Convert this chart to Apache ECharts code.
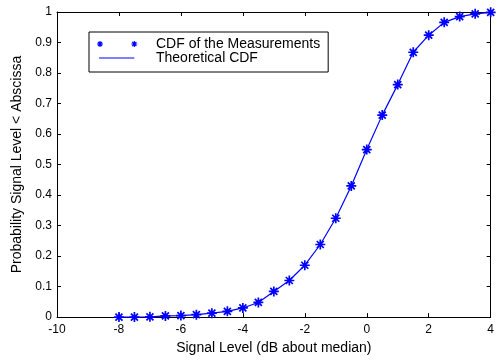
<!DOCTYPE html>
<html>
<head>
<meta charset="utf-8">
<script src="https://cdn.jsdelivr.net/npm/echarts@6/dist/echarts.min.js"></script>
<style>
  html, body { margin: 0; padding: 0; background: #fff; }
  #chart { width: 497px; height: 360px; }
</style>
</head>
<body>
<div id="chart"></div>
<script>
// ---- data ----
const signalLevels = [-8, -7.5, -7, -6.5, -6, -5.5, -5, -4.5, -4, -3.5, -3, -2.5, -2,
                      -1.5, -1, -0.5, 0, 0.5, 1, 1.5, 2, 2.5, 3, 3.5, 4];
const measuredCdf = [0.000, 0.000, 0.001, 0.004, 0.005, 0.008, 0.013, 0.019, 0.030, 0.048,
                     0.084, 0.120, 0.170, 0.238, 0.324, 0.430, 0.549, 0.662, 0.762, 0.868,
                     0.924, 0.966, 0.985, 0.994, 0.999];
const theoreticalCdf = [0.000, 0.000, 0.001, 0.004, 0.005, 0.008, 0.013, 0.019, 0.030, 0.048,
                        0.084, 0.120, 0.170, 0.238, 0.324, 0.430, 0.549, 0.662, 0.762, 0.868,
                        0.924, 0.966, 0.985, 0.994, 0.999];
const seriesNames = ['CDF of the Measurements', 'Theoretical CDF'];
const xTickLabels = [-10, -8, -6, -4, -2, 0, 2, 4];
const yTickLabels = [0, 0.1, 0.2, 0.3, 0.4, 0.5, 0.6, 0.7, 0.8, 0.9, 1];
const xTitle = 'Signal Level (dB about median)';
const yTitle = 'Probability Signal Level < Abscissa';

// ---- styling helpers ----
const BLUE = '#0000ff';
const FONT = '"Liberation Sans", Arial, Helvetica, sans-serif';

// asterisk made of four filled bars (same winding), centred at cx,cy with radius r
function asterisk(cx, cy, r, w) {
  const P = (x, y) => (cx + x * r).toFixed(3) + ',' + (cy + y * r).toFixed(3);
  const d = 0.7, n = w / 1.4;
  return [
    'M' + P(-w, -1) + 'L' + P(w, -1) + 'L' + P(w, 1) + 'L' + P(-w, 1) + 'Z',
    'M' + P(-1, -w) + 'L' + P(1, -w) + 'L' + P(1, w) + 'L' + P(-1, w) + 'Z',
    'M' + P(d + n, d - n) + 'L' + P(d - n, d + n) + 'L' + P(-d - n, -d + n) + 'L' + P(-d + n, -d - n) + 'Z',
    'M' + P(-d + n, d + n) + 'L' + P(-d - n, d - n) + 'L' + P(d - n, -d - n) + 'L' + P(d + n, -d + n) + 'Z'
  ].join('');
}
const markerPath = 'path://' + asterisk(0, 0, 1, 0.17);
// legend icons: box 56 x 8, corners pinned with degenerate points
const pin = 'M0,0L0,0ZM56,8L56,8Z';
const legendMarkerIcon = 'path://' + pin + asterisk(5, 4, 3, 0.2) + asterisk(39.3, 4, 3, 0.2);
const legendLineIcon = 'path://' + pin + 'M4,3.5L39.3,3.5L39.3,4.5L4,4.5Z';

const chart = echarts.init(document.getElementById('chart'), null, { renderer: 'canvas' });

const xMin = xTickLabels[0], xMax = xTickLabels[xTickLabels.length - 1];
const yMin = yTickLabels[0], yMax = yTickLabels[yTickLabels.length - 1];

const axisCommon = {
  axisLine: { show: true, onZero: false, lineStyle: { color: '#000', width: 1 } },
  axisTick: { show: true, inside: true, length: 4, lineStyle: { color: '#000', width: 1 } },
  splitLine: { show: false }
};

const option = {
  animation: false,
  backgroundColor: '#fff',
  textStyle: { fontFamily: FONT },
  grid: { left: 57, top: 12, right: 3, bottom: 40, containLabel: false },
  legend: {
    orient: 'vertical',
    left: 89,
    top: 32,
    padding: [5, 8, 7, 6],
    itemGap: 0,
    itemWidth: 56,
    itemHeight: 8,
    symbolKeepAspect: true,
    borderColor: '#000',
    borderWidth: 1,
    borderRadius: 0,
    backgroundColor: '#fff',
    selectedMode: false,
    textStyle: { fontFamily: FONT, fontSize: 14, color: '#000', lineHeight: 13 },
    data: [
      { name: seriesNames[0], icon: legendMarkerIcon, itemStyle: { color: BLUE, borderWidth: 0 } },
      { name: seriesNames[1], icon: legendLineIcon, itemStyle: { color: BLUE, borderWidth: 0 } }
    ]
  },
  xAxis: [
    Object.assign({}, axisCommon, {
      type: 'value', position: 'bottom',
      min: xMin, max: xMax, interval: 2,
      name: xTitle, nameLocation: 'middle', nameGap: 19,
      nameTextStyle: { fontFamily: FONT, fontSize: 14, color: '#000' },
      axisLabel: { show: true, margin: 7, fontFamily: FONT, fontSize: 12, color: '#000' }
    }),
    Object.assign({}, axisCommon, {
      type: 'value', position: 'top',
      min: xMin, max: xMax, interval: 2,
      axisLabel: { show: false }
    })
  ],
  yAxis: [
    Object.assign({}, axisCommon, {
      type: 'value', position: 'left',
      min: yMin, max: yMax, interval: 0.1,
      name: yTitle, nameLocation: 'middle', nameGap: 27, nameRotate: 90,
      nameTextStyle: { fontFamily: FONT, fontSize: 14, color: '#000' },
      axisLabel: { show: true, margin: 5, fontFamily: FONT, fontSize: 12, color: '#000' }
    }),
    Object.assign({}, axisCommon, {
      type: 'value', position: 'right',
      min: yMin, max: yMax, interval: 0.1,
      axisLabel: { show: false }
    })
  ],
  series: [
    {
      name: seriesNames[0],
      type: 'scatter',
      xAxisIndex: 0, yAxisIndex: 0,
      symbol: markerPath,
      symbolSize: 10,
      clip: false,
      z: 3,
      itemStyle: { color: BLUE, opacity: 1 },
      data: signalLevels.map((x, i) => [x, measuredCdf[i]])
    },
    {
      name: seriesNames[1],
      type: 'line',
      xAxisIndex: 0, yAxisIndex: 0,
      showSymbol: false,
      symbol: 'none',
      z: 2,
      color: BLUE,
      lineStyle: { color: BLUE, width: 1.2 },
      itemStyle: { color: BLUE },
      data: signalLevels.map((x, i) => [x, theoreticalCdf[i]])
    }
  ]
};

chart.setOption(option);
</script>
</body>
</html>
